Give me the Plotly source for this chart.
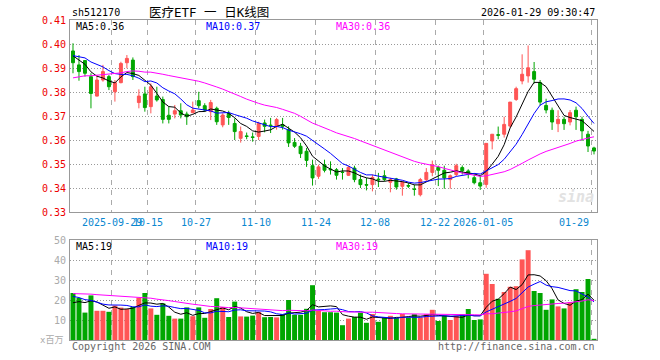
import pandas as pd
import plotly.graph_objects as go

# ---------------- data ----------------
holidays = ['2025-10-01', '2025-10-02', '2025-10-03', '2025-10-06', '2025-10-07',
            '2025-10-08', '2026-01-01', '2026-01-02']
dates = [d.strftime('%Y-%m-%d') for d in pd.bdate_range('2025-09-18', '2026-01-29')
         if d.strftime('%Y-%m-%d') not in holidays]

open_ = [0.3971, 0.3913, 0.3931, 0.3864, 0.3783, 0.3850, 0.3864, 0.3801, 0.3839, 0.3922,
         0.3933, 0.3756, 0.3792, 0.3739, 0.3783, 0.3769, 0.3703, 0.3708, 0.3722, 0.3708,
         0.3714, 0.3764, 0.3743, 0.3718, 0.3732, 0.3663, 0.3711, 0.3669, 0.3607, 0.3617,
         0.3613, 0.3615, 0.3671, 0.3662, 0.3657, 0.3664, 0.3643, 0.3590, 0.3574, 0.3553,
         0.3493, 0.3449, 0.3497, 0.3479, 0.3476, 0.3466, 0.3453, 0.3483, 0.3435, 0.3414,
         0.3414, 0.3437, 0.3451, 0.3424, 0.3438, 0.3407, 0.3410, 0.3396, 0.3372, 0.3435,
         0.3465, 0.3486, 0.3474, 0.3435, 0.3456, 0.3485, 0.3471, 0.3443, 0.3422, 0.3415,
         0.3596, 0.3622, 0.3624, 0.3658, 0.3769, 0.3846, 0.3867, 0.3885, 0.3839, 0.3744,
         0.3724, 0.3668, 0.3686, 0.3675, 0.3724, 0.3686, 0.3624, 0.3567]
high = [0.4003, 0.3954, 0.3933, 0.3878, 0.3871, 0.3913, 0.3871, 0.3850, 0.3926, 0.3954,
        0.3944, 0.3811, 0.3822, 0.3836, 0.3822, 0.3781, 0.3739, 0.3746, 0.3753, 0.3718,
        0.3760, 0.3801, 0.3753, 0.3767, 0.3739, 0.3711, 0.3722, 0.3690, 0.3656, 0.3631,
        0.3631, 0.3676, 0.3685, 0.3692, 0.3692, 0.3692, 0.3657, 0.3608, 0.3588, 0.3567,
        0.3518, 0.3497, 0.3518, 0.3511, 0.3483, 0.3483, 0.3493, 0.3493, 0.3456, 0.3442,
        0.3456, 0.3463, 0.3474, 0.3442, 0.3442, 0.3428, 0.3421, 0.3414, 0.3442, 0.3483,
        0.3514, 0.3493, 0.3493, 0.3456, 0.3501, 0.3494, 0.3478, 0.3457, 0.3450, 0.3586,
        0.3624, 0.3656, 0.3697, 0.3758, 0.3822, 0.3957, 0.3994, 0.3925, 0.3850, 0.3772,
        0.3735, 0.3724, 0.3697, 0.3725, 0.3739, 0.3697, 0.3638, 0.3572]
low = [0.3878, 0.3847, 0.3864, 0.3732, 0.3781, 0.3843, 0.3808, 0.3760, 0.3836, 0.3899,
       0.3850, 0.3732, 0.3718, 0.3711, 0.3760, 0.3669, 0.3669, 0.3690, 0.3690, 0.3663,
       0.3711, 0.3732, 0.3718, 0.3683, 0.3663, 0.3653, 0.3663, 0.3600, 0.3589, 0.3603,
       0.3593, 0.3600, 0.3632, 0.3629, 0.3643, 0.3643, 0.3571, 0.3567, 0.3525, 0.3488,
       0.3410, 0.3438, 0.3465, 0.3456, 0.3435, 0.3435, 0.3450, 0.3424, 0.3400, 0.3390,
       0.3386, 0.3404, 0.3428, 0.3382, 0.3393, 0.3368, 0.3400, 0.3368, 0.3365, 0.3428,
       0.3449, 0.3408, 0.3397, 0.3397, 0.3449, 0.3456, 0.3440, 0.3415, 0.3392, 0.3401,
       0.3561, 0.3603, 0.3610, 0.3651, 0.3763, 0.3832, 0.3839, 0.3835, 0.3744, 0.3711,
       0.3642, 0.3633, 0.3642, 0.3661, 0.3642, 0.3596, 0.3550, 0.3540]
close = [0.3922, 0.3885, 0.3878, 0.3794, 0.3850, 0.3885, 0.3822, 0.3839, 0.3919, 0.3940,
         0.3864, 0.3783, 0.3735, 0.3822, 0.3767, 0.3686, 0.3686, 0.3722, 0.3704, 0.3697,
         0.3725, 0.3743, 0.3725, 0.3756, 0.3676, 0.3704, 0.3694, 0.3635, 0.3635, 0.3615,
         0.3611, 0.3669, 0.3657, 0.3660, 0.3685, 0.3657, 0.3588, 0.3574, 0.3543, 0.3515,
         0.3442, 0.3488, 0.3474, 0.3476, 0.3453, 0.3465, 0.3486, 0.3435, 0.3414, 0.3412,
         0.3444, 0.3434, 0.3435, 0.3435, 0.3404, 0.3424, 0.3408, 0.3394, 0.3435, 0.3465,
         0.3497, 0.3474, 0.3442, 0.3451, 0.3493, 0.3472, 0.3457, 0.3422, 0.3408, 0.3586,
         0.3624, 0.3620, 0.3665, 0.3758, 0.3814, 0.3874, 0.3901, 0.3853, 0.3758, 0.3725,
         0.3675, 0.3686, 0.3668, 0.3714, 0.3697, 0.3638, 0.3575, 0.3554]
volume = [23.5, 21.0, 13.7, 22.3, 14.6, 14.6, 14.1, 17.2, 16.2, 15.5,
          16.5, 21.1, 23.5, 15.8, 12.6, 18.3, 12.1, 10.7, 10.7, 16.3,
          11.9, 16.3, 11.1, 15.5, 20.9, 16.5, 11.5, 19.2, 11.8, 11.7,
          12.2, 14.0, 11.4, 11.5, 11.3, 13.0, 20.0, 12.6, 12.6, 15.6,
          27.4, 14.5, 13.9, 13.9, 13.7, 7.4, 10.7, 11.5, 13.7, 8.6,
          13.0, 9.1, 11.2, 12.1, 11.1, 13.0, 11.2, 12.9, 11.2, 12.9,
          15.1, 9.5, 12.1, 10.0, 12.1, 12.9, 15.5, 10.0, 10.3, 33.1,
          28.0, 20.6, 24.0, 26.6, 26.9, 40.3, 44.9, 24.5, 23.5, 15.1,
          20.3, 16.8, 15.8, 18.9, 25.4, 24.0, 30.5, 0.6]

# earlier sessions (before the visible window), estimated from where the MA lines start
prior_close = [0.3745, 0.3762, 0.3788, 0.3771, 0.3796, 0.3783, 0.3809, 0.3792, 0.3774, 0.3790,
               0.3822, 0.3841, 0.3830, 0.3862, 0.3851, 0.3843, 0.3858, 0.3832, 0.3849, 0.3852,
               0.3918, 0.3941, 0.3963, 0.3969, 0.3971, 0.3978, 0.3962, 0.3951, 0.3941]
prior_volume = [20.5, 23.0, 21.5, 22.5, 19.8, 21.2, 23.6, 20.4, 22.1, 22.4,
                25.0, 28.3, 24.6, 27.1, 25.8, 26.9, 24.2, 27.5, 25.4, 26.2,
                26.8, 24.1, 25.9, 23.7, 24.4, 18.2, 16.1, 17.9, 17.4]

tick_dates = ['2025-09-29', '2025-10-15', '2025-10-27', '2025-11-10', '2025-11-24',
              '2025-12-08', '2025-12-22', '2026-01-05', '2026-01-29']
tick_labels = ['2025-09-29', '10-15', '10-27', '11-10', '11-24',
               '12-08', '12-22', '2026-01-05', '01-29']
price_ticks = [0.33, 0.34, 0.35, 0.36, 0.37, 0.38, 0.39, 0.40, 0.41]
vol_ticks = [10, 20, 30, 40, 50]

# ---------------- derived ----------------
n = len(dates)
xi = list(range(n))
cs = pd.Series(prior_close + close)
vs = pd.Series(prior_volume + volume)
ma = {w: cs.rolling(w).mean().tolist()[-n:] for w in (5, 10, 30)}
vma = {w: vs.rolling(w).mean().tolist()[-n:] for w in (5, 10, 30)}

RED = '#ff5555'
GREEN = '#00a600'
MA_COL = {5: '#000000', 10: '#0000ff', 30: '#ff00ff'}
FONT = 'DejaVu Sans Mono, Noto Sans CJK SC'

fig = go.Figure()
fig.add_trace(go.Candlestick(
    x=xi, open=open_, high=high, low=low, close=close,
    increasing=dict(line=dict(color=RED, width=1), fillcolor=RED),
    decreasing=dict(line=dict(color=GREEN, width=1), fillcolor=GREEN),
    whiskerwidth=0, xaxis='x', yaxis='y', hoverinfo='skip'))
for w in (5, 10, 30):
    fig.add_trace(go.Scatter(x=xi, y=ma[w], mode='lines', line=dict(color=MA_COL[w], width=1),
                             xaxis='x', yaxis='y', hoverinfo='skip'))
bar_cols = [RED if c >= o else GREEN for o, c in zip(open_, close)]
fig.add_trace(go.Bar(x=xi, y=volume, marker=dict(color=bar_cols, line=dict(width=0)),
                     xaxis='x2', yaxis='y2', hoverinfo='skip'))
for w in (5, 10, 30):
    fig.add_trace(go.Scatter(x=xi, y=vma[w], mode='lines', line=dict(color=MA_COL[w], width=1),
                             xaxis='x2', yaxis='y2', hoverinfo='skip'))

# pixel helpers (plot area: x 70..597, y 20..340)
L, R, T, B = 70, 597, 20, 340
def px(X):
    return (X - L) / (R - L)
def py(Y):
    return (B - Y) / (B - T)

tick_idx = [dates.index(d) for d in tick_dates]
grid_pos = [i - 0.5 for i in tick_idx]

xcommon = dict(range=[-0.5, n - 0.5], tickvals=grid_pos, showticklabels=False,
               showgrid=True, gridcolor='#aaaaaa', griddash='5px,5px', gridwidth=1,
               showline=True, mirror=True, linecolor='#999999', linewidth=1,
               zeroline=False, ticks='', fixedrange=True)

fig.update_layout(
    width=660, height=360,
    margin=dict(l=L, r=660 - R, t=T, b=360 - B, pad=0),
    paper_bgcolor='white', plot_bgcolor='white',
    showlegend=False, hovermode=False,
    boxgap=0.3, bargap=0.17,
    font=dict(family=FONT, size=10, color='#000000'),
    xaxis=dict(domain=[0, 1], anchor='y', rangeslider=dict(visible=False), **xcommon),
    xaxis2=dict(domain=[0, 1], anchor='y2', matches='x', **xcommon),
    yaxis=dict(domain=[py(212), 1], range=[0.33, 0.41], tickvals=price_ticks,
               ticktext=['%.2f' % v for v in price_ticks],
               tickfont=dict(color='#ee0000', size=10, family=FONT),
               showgrid=True, gridcolor='#999999', griddash='1px,2px',
               showline=True, mirror=True, linecolor='#999999', zeroline=False,
               ticks='', ticklabelstandoff=1, fixedrange=True),
    yaxis2=dict(domain=[0, py(240)], range=[0, 50], tickvals=vol_ticks,
                ticktext=[str(v) for v in vol_ticks],
                tickfont=dict(color='#aaaaaa', size=10, family=FONT),
                showgrid=True, gridcolor='#999999', griddash='1px,2px',
                showline=True, mirror=True, linecolor='#999999', zeroline=False,
                ticks='', ticklabelstandoff=1, fixedrange=True),
)

ann = []
def text(t, X, Y, anchor='left', color='#000000', size=10, **kw):
    ann.append(dict(text=t, x=px(X), y=py(Y), xref='paper', yref='paper',
                    xanchor=anchor, yanchor='middle', showarrow=False,
                    font=dict(color=color, size=size, family=FONT), **kw))

text('sh512170', 70, 13)
text('医疗ETF 一 日K线图', 209, 12, anchor='center', size=12.5)
text('2026-01-29 09:30:47', 597, 13, anchor='right')
text('MA5:%.2f' % ma[5][-1], 74, 26, color=MA_COL[5])
text('MA10:%.2f' % ma[10][-1], 204, 26, color=MA_COL[10])
text('MA30:%.2f' % ma[30][-1], 334, 26, color=MA_COL[30])
text('MA5:19', 74, 246, color=MA_COL[5])
text('MA10:19', 204, 246, color=MA_COL[10])
text('MA30:19', 334, 246, color=MA_COL[30])
text('x百万', 65, 340, anchor='right', color='#aaaaaa', size=9)
text('Copyright 2026 SINA.COM', 70, 346, color='#666666')
text('http://finance.sina.com.cn', 597, 346, anchor='right', color='#666666')
text('<b><i>sina</i></b>', 576, 197, anchor='center', color='#e2e2e2', size=15)
for i, lab in zip(tick_idx, tick_labels):
    X = L + (i) * (R - L) / n
    if i == n - 1:
        text(lab, X, 222, anchor='right', color='#0a87d0')
    else:
        text(lab, X, 222, anchor='center', color='#0a87d0')
fig.update_layout(annotations=ann)

fig.write_html('out.html', config={'displayModeBar': False, 'staticPlot': True},
               post_script="document.body.style.margin='0px';")
